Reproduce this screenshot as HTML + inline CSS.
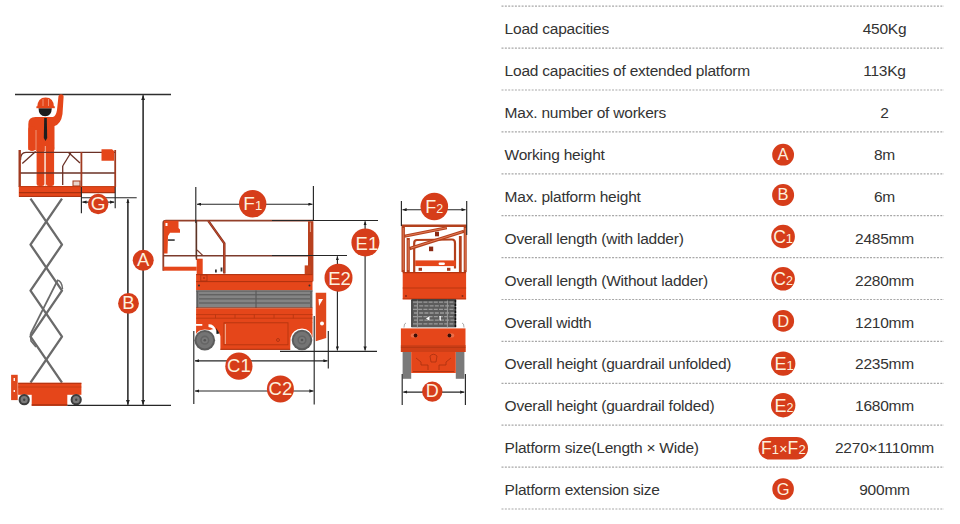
<!DOCTYPE html>
<html><head><meta charset="utf-8"><style>
html,body{margin:0;padding:0;background:#fff;}
body{width:960px;height:524px;position:relative;overflow:hidden;font-family:"Liberation Sans",sans-serif;}
.lbl,.val{position:absolute;height:42px;line-height:45px;font-size:15.5px;letter-spacing:-0.22px;color:#333;white-space:nowrap;}
.lbl{left:504.6px;}
.val{left:784.5px;width:200px;text-align:center;}
svg{position:absolute;left:0;top:0;}
</style></head><body>
<svg width="960" height="524" viewBox="0 0 960 524" font-family="Liberation Sans, sans-serif">
<g stroke="#a8a8a8" stroke-width="1.2" stroke-dasharray="2 1.35"><line x1="501.5" y1="6.20" x2="944" y2="6.20"/><line x1="501.5" y1="48.10" x2="944" y2="48.10"/><line x1="501.5" y1="90.00" x2="944" y2="90.00"/><line x1="501.5" y1="131.90" x2="944" y2="131.90"/><line x1="501.5" y1="173.80" x2="944" y2="173.80"/><line x1="501.5" y1="215.70" x2="944" y2="215.70"/><line x1="501.5" y1="257.60" x2="944" y2="257.60"/><line x1="501.5" y1="299.50" x2="944" y2="299.50"/><line x1="501.5" y1="341.40" x2="944" y2="341.40"/><line x1="501.5" y1="383.30" x2="944" y2="383.30"/><line x1="501.5" y1="425.20" x2="944" y2="425.20"/><line x1="501.5" y1="467.10" x2="944" y2="467.10"/><line x1="501.5" y1="509.00" x2="944" y2="509.00"/></g>
<g fill="#d63d1a"><circle cx="783.1" cy="154.7" r="10.9"/><text fill="#fdf0de" x="783.1" y="160.39" font-size="16.5" text-anchor="middle">A</text><circle cx="783.1" cy="195.0" r="11.0"/><text fill="#fdf0de" x="783.1" y="199.89" font-size="16.5" text-anchor="middle">B</text><circle cx="783.1" cy="236.5" r="11.8"/><text fill="#fdf0de" x="783.1" y="242.74" font-size="17.5" text-anchor="middle" letter-spacing="0">C<tspan font-size="13">1</tspan></text><circle cx="783.1" cy="278.8" r="11.8"/><text fill="#fdf0de" x="783.1" y="285.04" font-size="17.5" text-anchor="middle" letter-spacing="0">C<tspan font-size="12.5">2</tspan></text><circle cx="783.3" cy="320.9" r="10.8"/><text fill="#fdf0de" x="783.3" y="326.59" font-size="16.5" text-anchor="middle">D</text><circle cx="783.2" cy="363.6" r="12.2"/><text fill="#fdf0de" x="784" y="370" font-size="18" text-anchor="middle">E<tspan font-size="13">1</tspan></text><circle cx="783.2" cy="405.2" r="12.2"/><text fill="#fdf0de" x="784" y="411.6" font-size="18" text-anchor="middle">E<tspan font-size="12.5">2</tspan></text><circle cx="783.1" cy="489.0" r="10.8"/><text fill="#fdf0de" x="783.1" y="494.69" font-size="16.5" text-anchor="middle">G</text><rect x="758.5" y="437" width="49.5" height="22.6" rx="11.3"/><text fill="#fdf0de" x="783.4" y="454.4" font-size="17.5" text-anchor="middle" letter-spacing="0.2">F<tspan font-size="13">1</tspan><tspan font-size="14">×</tspan>F<tspan font-size="13">2</tspan></text></g>

<defs>
<marker id="ar" viewBox="0 0 10 8" refX="10" refY="4" markerWidth="4.2" markerHeight="3.3" orient="auto-start-reverse" markerUnits="userSpaceOnUse"><path d="M0 0L10 4L0 8z" fill="#1e1e1e"/></marker>
<marker id="ar2" viewBox="0 0 10 8" refX="10" refY="4" markerWidth="5.6" markerHeight="3.8" orient="auto-start-reverse" markerUnits="userSpaceOnUse"><path d="M0 0L10 4L0 8z" fill="#222"/></marker>
</defs>
<!-- ============ LEFT FIGURE: extended lift ============ -->
<g id="left">
<line x1="15" y1="94.5" x2="171" y2="94.5" stroke="#2e2e2e" stroke-width="1.3"/>
<!-- scissors -->
<g stroke="#6a6a6a" stroke-width="2.3" fill="none" stroke-linejoin="round">
<polyline points="30.5,198.6 62,244.6 30.5,290.6 62,336.6 30.5,382.7"/>
<polyline points="62,198.6 30.5,244.6 62,290.6 30.5,336.6 62,382.7"/>
<line x1="57.5" y1="280.5" x2="30.5" y2="334" stroke-width="1.7"/>
<path d="M57 280 Q62 281 62.5 289" stroke-width="1.5"/>
<path d="M30.5 334 L31 341 L36 347" stroke-width="1.6"/>
</g>
<!-- worker -->
<g fill="#e5461a">
<path d="M37.2 107.3 Q37.5 97.6 45.6 97.6 Q53.8 97.6 54 107.3 Z"/>
<rect x="35.5" y="117" width="19" height="34" rx="2"/>
<path d="M28.3 150 L28.3 124 Q28.3 117 35.5 117 L42 117 L42 150 Z"/>
<rect x="28.3" y="126" width="7.5" height="25" rx="3.7"/>
<path d="M48 117 L53 117 Q56 116 57 110 L58.5 96 Q59 94.3 61 94.3 Q63.8 94.5 63.6 97 L62.5 114 Q61 124 54.5 126 L48 126 Z"/>
<rect x="36.6" y="145" width="7.8" height="41" rx="2.5"/>
<rect x="46" y="145" width="8.1" height="41" rx="2.5"/>
</g>
<line x1="45.3" y1="146" x2="45.3" y2="186" stroke="#f3b9a0" stroke-width="1"/>
<line x1="36" y1="130" x2="36" y2="150" stroke="#f3b9a0" stroke-width="0.7"/>
<path d="M38.5 108.3 Q38.6 116.2 45.2 116.2 Q51.6 116.2 51.8 108.3 Z" fill="#1c1c1c"/>
<rect x="36.4" y="106.3" width="18.4" height="1.9" fill="#e5461a"/>
<line x1="43" y1="99" x2="43" y2="106" stroke="#f7a58a" stroke-width="0.8"/>
<line x1="48.5" y1="99" x2="48.5" y2="106" stroke="#f7a58a" stroke-width="0.8"/>
<path d="M44.2 118 L46.8 118 L47.2 138 L45.5 141 L43.8 138 Z" fill="#1e1e1e"/>
<!-- guardrails -->
<g stroke="#6a3025" stroke-width="1.3" fill="none">
<path d="M20.5 160 Q20.5 152.3 26 152.3 L115.2 152.3"/>
<line x1="19.7" y1="173" x2="115.2" y2="173"/>
<line x1="22.3" y1="163.5" x2="35.6" y2="151.4"/>
<line x1="62.7" y1="185" x2="62.7" y2="166"/>
<line x1="62.7" y1="166" x2="71" y2="152.5"/>
<line x1="68.5" y1="152.5" x2="80" y2="163"/>
</g>
<g stroke="#a03a20" fill="none">
<line x1="19.7" y1="150" x2="19.7" y2="187" stroke-width="2.4"/>
<line x1="81.4" y1="152" x2="81.4" y2="187" stroke-width="1.8"/>
<line x1="115.2" y1="150" x2="115.2" y2="187" stroke-width="1.8"/>
</g>
<path d="M101.5 149.3 L112 149.3 L114 151 L114 160.7 L101.5 160.7 Z" fill="#e5461a"/>
<rect x="73" y="181" width="7" height="5" fill="#e9d6cc" stroke="#a33a1c" stroke-width="1"/>
<!-- deck -->
<rect x="19" y="186.2" width="96.2" height="6.5" fill="#e5461a"/>
<rect x="18.8" y="186.2" width="62.9" height="10.6" fill="#e5461a"/>
<line x1="19" y1="186.6" x2="115" y2="186.6" stroke="#b5350f" stroke-width="0.8"/><line x1="19" y1="192.6" x2="115" y2="192.6" stroke="#a8300f" stroke-width="1.1"/>
<line x1="19" y1="196.4" x2="81.4" y2="196.4" stroke="#a8300f" stroke-width="1"/>
<!-- base -->
<rect x="18.1" y="382.8" width="63.3" height="12" fill="#e5461a"/>
<line x1="18.1" y1="383.3" x2="81.4" y2="383.3" stroke="#a8300f" stroke-width="0.9"/>
<line x1="18.1" y1="387" x2="81.4" y2="387" stroke="#b5350f" stroke-width="0.6"/>
<rect x="31.7" y="389.8" width="35.6" height="16" fill="#e5461a"/>
<line x1="31.7" y1="405" x2="67.3" y2="405" stroke="#a8300f" stroke-width="1.4"/>
<rect x="11.1" y="374.8" width="6.6" height="25.3" fill="#e0481c"/>
<rect x="13.6" y="378" width="1.3" height="3" fill="#fff"/>
<rect x="13.6" y="390" width="1.3" height="2" fill="#fff"/>
<circle cx="24.2" cy="399.7" r="5.6" fill="#3d3d3d"/><circle cx="24.2" cy="399.7" r="3.6" fill="#7a7a7a"/><circle cx="24.2" cy="399.7" r="1.2" fill="#444"/>
<circle cx="76.2" cy="399.7" r="5.6" fill="#3d3d3d"/><circle cx="76.2" cy="399.7" r="3.6" fill="#7a7a7a"/><circle cx="76.2" cy="399.7" r="1.2" fill="#444"/>
<!-- dimension lines -->
<g stroke="#262626" stroke-width="1.15" fill="none">
<line x1="67.3" y1="405.4" x2="171" y2="405.4" stroke-width="1.3"/>
<line x1="81.4" y1="187" x2="81.4" y2="213.3"/>
<line x1="115.2" y1="187" x2="115.2" y2="208.3"/>
<line x1="82.4" y1="202.1" x2="114.2" y2="202.1" marker-start="url(#ar)" marker-end="url(#ar)"/>
<line x1="81.7" y1="197.7" x2="136.7" y2="197.7"/>
<line x1="127.9" y1="199.2" x2="127.9" y2="404.8" marker-start="url(#ar)" marker-end="url(#ar2)" stroke-width="1.4" stroke="#111"/>
<line x1="143.1" y1="95.2" x2="143.1" y2="404.8" marker-start="url(#ar2)" marker-end="url(#ar2)" stroke-width="1.4" stroke="#111"/>
</g>
</g>

<!-- ============ MIDDLE FIGURE: side view ============ -->
<g id="mid">
<g stroke="#7c3b2c" stroke-width="1.4" fill="none">
<path d="M163.3 270.7 L163.3 223 Q163.3 220.7 166 220.7 L313 220.7" stroke="#93402a" stroke-width="1.8"/>
<line x1="163.3" y1="255.8" x2="313" y2="255.8"/>
<polyline points="208.3,220.9 224.3,243.4 224.3,273.4" stroke="#8a3422" stroke-width="2.5"/>
<polyline points="208.3,220.9 224.3,243.4 224.3,273.4" stroke="#c44a2a" stroke-width="1"/>
<line x1="196.5" y1="220" x2="196.5" y2="260"/>
<line x1="197" y1="250" x2="202.7" y2="255.4" stroke-width="1.2"/>
</g>
<path d="M164 220.7 L178.5 220.7 L178.5 228 L180 229.5 L180 232.7 L170 232.7 L168 236 L167.5 253.4 L164 253.4 Z" fill="#e5461a"/>
<rect x="165.5" y="223" width="2" height="3" fill="#fff"/>
<rect x="168" y="239.3" width="6.7" height="1.5" fill="#2a2a2a"/>
<rect x="163.3" y="266.7" width="33.4" height="4" fill="#e5461a"/>
<rect x="196.7" y="258.7" width="6" height="16" fill="#e5461a"/>
<rect x="215" y="269.5" width="1.8" height="3" fill="#333"/>
<rect x="220.6" y="267.5" width="1.8" height="4" fill="#333"/>
<rect x="308" y="221.3" width="5.4" height="60" fill="#b8401e"/>
<line x1="310.4" y1="222.5" x2="310.4" y2="232" stroke="#f3c0a8" stroke-width="0.8"/>
<rect x="304.7" y="265.4" width="6" height="8.7" fill="#c8441c"/>
<!-- deck -->
<rect x="196.1" y="274.1" width="116.4" height="16.3" fill="#e5461a"/>
<line x1="196.1" y1="274.6" x2="312.5" y2="274.6" stroke="#a8300f" stroke-width="0.9"/>
<line x1="196.1" y1="281.6" x2="312.5" y2="281.6" stroke="#a8300f" stroke-width="0.9"/>
<rect x="200.8" y="274.9" width="6.2" height="6.1" fill="none" stroke="#a8300f" stroke-width="0.8"/>
<circle cx="204" cy="278" r="0.9" fill="#a8300f"/>
<circle cx="199" cy="285.5" r="1" fill="#333"/>
<circle cx="309.5" cy="285.5" r="1" fill="#333"/>
<!-- stowed scissors -->
<rect x="196.1" y="290.4" width="116.4" height="17.6" fill="#848484"/>
<g stroke="#555" stroke-width="1">
<line x1="196.1" y1="291" x2="312.5" y2="291"/>
<line x1="199" y1="294.8" x2="310" y2="294.8"/>
<line x1="199" y1="298.9" x2="310" y2="298.9"/>
<line x1="199" y1="303" x2="310" y2="303"/>
</g>
<g stroke="#5e5e5e" stroke-width="1.4"><line x1="197.5" y1="291" x2="197.5" y2="308"/><line x1="311" y1="291" x2="311" y2="308"/></g>
<line x1="256" y1="290.4" x2="256" y2="308" stroke="#5a5a5a" stroke-width="1.2"/>
<line x1="196.1" y1="308" x2="312.5" y2="308" stroke="#a8300f" stroke-width="1"/>
<!-- chassis -->
<rect x="196.1" y="308.4" width="116.4" height="14" fill="#e5461a"/>
<line x1="196.1" y1="314.6" x2="312.5" y2="314.6" stroke="#b5350f" stroke-width="0.8"/>
<line x1="196.1" y1="318.2" x2="312.5" y2="318.2" stroke="#b5350f" stroke-width="0.8"/>
<g stroke="#b5350f" stroke-width="0.8"><line x1="215.5" y1="314.6" x2="215.5" y2="318.2"/><line x1="235" y1="314.6" x2="235" y2="318.2"/><line x1="254.3" y1="314.6" x2="254.3" y2="318.2"/><line x1="274" y1="314.6" x2="274" y2="318.2"/><line x1="293.3" y1="314.6" x2="293.3" y2="318.2"/></g>
<path d="M214 322 L312.5 322 L312.5 338 Q311 329 302 328.5 Q292.5 329 290.5 338 L290.2 349.8 L220.4 349.8 L220.4 336 Q218.5 329 211 328.5 Z" fill="#e5461a"/>
<path d="M196.1 322 L214 322 L214 329 Q211 329.5 210 330 L204.8 329.6 Q198 330 196.1 334 Z" fill="#e5461a"/>
<rect x="195.8" y="324" width="6.5" height="1.8" fill="#fff"/>
<path d="M208.5 324.3 Q214 324 216 330 L218.5 334 L216 334 Q214 327.5 208.5 327 Z" fill="#fff"/>
<path d="M216.2 328 L219.5 333.5 L216.5 334 Z" fill="#1a1a1a"/>
<rect x="224" y="322.8" width="64" height="22" fill="none" stroke="#b5350f" stroke-width="0.9"/>
<line x1="225.3" y1="324" x2="225.3" y2="344" stroke="#f7d3c0" stroke-width="0.8"/>
<line x1="220.4" y1="349.3" x2="290.2" y2="349.3" stroke="#a8300f" stroke-width="1"/>
<circle cx="278" cy="340" r="1.5" fill="none" stroke="#a8300f" stroke-width="0.8"/>
<!-- wheels -->
<circle cx="204.8" cy="340.2" r="10.3" fill="#5c5c5c"/><circle cx="204.8" cy="340.2" r="8.3" fill="#747474"/><circle cx="204.8" cy="340.2" r="4.6" fill="#656565"/><circle cx="204.8" cy="340.2" r="3" fill="#7a7a7a"/><circle cx="204.8" cy="340.2" r="1.3" fill="#555"/>
<circle cx="302" cy="340" r="10.3" fill="#5c5c5c"/><circle cx="302" cy="340" r="8.3" fill="#747474"/><circle cx="302" cy="340" r="4.6" fill="#656565"/><circle cx="302" cy="340" r="3" fill="#7a7a7a"/><circle cx="302" cy="340" r="1.3" fill="#555"/>
<!-- ladder -->
<path d="M315.7 292.7 L326.2 292.7 L326.2 338 L315.7 341.3 Z" fill="#e0481c"/>
<path d="M318.5 299 L323 299 L319 306 Z" fill="#fff"/>
<circle cx="322" cy="323.5" r="2" fill="#fff"/>
<!-- dimension lines -->
<g stroke="#262626" stroke-width="1.15" fill="none">
<line x1="195.8" y1="187" x2="195.8" y2="223"/><line x1="196.3" y1="222" x2="196.3" y2="258.5" stroke="#5a3426" stroke-width="1.3"/>
<line x1="313.4" y1="186" x2="313.4" y2="221"/>
<line x1="197" y1="204.2" x2="312.5" y2="204.2" marker-start="url(#ar)" marker-end="url(#ar)"/>
<line x1="272" y1="220.5" x2="378" y2="220.5" stroke-width="1.2"/>
<line x1="272" y1="255.5" x2="347" y2="255.5" stroke-width="1.2"/>
<line x1="365.1" y1="221.2" x2="365.1" y2="350.6" marker-start="url(#ar)" marker-end="url(#ar)"/>
<line x1="337.4" y1="256.3" x2="337.4" y2="350.6" marker-start="url(#ar)" marker-end="url(#ar)"/>
<line x1="280" y1="351.3" x2="377" y2="351.3" stroke-width="1.2"/>
<line x1="193.8" y1="331" x2="193.8" y2="404"/>
<line x1="328.3" y1="331" x2="328.3" y2="368.5"/>
<line x1="314.2" y1="316" x2="314.2" y2="404.6"/>
<line x1="195" y1="360.8" x2="327.5" y2="360.8" marker-start="url(#ar)" marker-end="url(#ar)"/>
<line x1="195" y1="391" x2="313.5" y2="391" marker-start="url(#ar)" marker-end="url(#ar)"/>
</g>
</g>

<!-- ============ RIGHT FIGURE: front view ============ -->
<g id="front">
<g stroke="#b3401c" fill="none">
<line x1="402" y1="225.8" x2="466.5" y2="225.8" stroke-width="2.6"/>
<line x1="403.2" y1="225" x2="403.2" y2="272" stroke-width="3.4"/>
<line x1="408.2" y1="238" x2="408.2" y2="272" stroke-width="3.2"/>
<line x1="465.2" y1="225" x2="465.2" y2="272" stroke-width="3"/>
<line x1="460.3" y1="236" x2="460.3" y2="272" stroke-width="2.8"/>
<path d="M414.2 272 L414.2 243 Q414.2 240 417 240 L452 239.5 Q455 239.5 455 243 L455 268.4" stroke-width="2.2"/>
<line x1="404.3" y1="236.3" x2="446.8" y2="227.8" stroke-width="3.2"/>
<line x1="409.5" y1="248.6" x2="464" y2="231.3" stroke-width="3.2"/>
</g>
<g stroke="#ef8a66" stroke-width="0.8">
<line x1="405.5" y1="236" x2="446" y2="227.9"/>
<line x1="411" y1="248" x2="462.5" y2="231.7"/>
<line x1="403.2" y1="228" x2="403.2" y2="270"/>
<line x1="408.2" y1="240" x2="408.2" y2="270"/>
<line x1="465.2" y1="228" x2="465.2" y2="270"/>
</g>
<rect x="429" y="246.6" width="4.2" height="4.6" fill="#8a2a14"/>
<rect x="435" y="231.7" width="4" height="4.6" fill="#8a2a14"/>
<rect x="415.2" y="260.4" width="40.6" height="5.7" fill="#e5461a"/>
<rect x="438.6" y="262.4" width="6.3" height="2.5" fill="#fff" rx="1.2"/>
<rect x="418.6" y="267.8" width="3.4" height="3" fill="#a33a1c"/>
<rect x="447" y="267.8" width="3.4" height="3" fill="#a33a1c"/>
<!-- deck -->
<rect x="402.7" y="272" width="63.4" height="27.4" fill="#e5461a"/>
<line x1="402.7" y1="272.7" x2="466.1" y2="272.7" stroke="#a8300f" stroke-width="1"/>
<line x1="402.7" y1="288" x2="466.1" y2="288" stroke="#b5350f" stroke-width="0.9"/>
<line x1="402.7" y1="298.8" x2="466.1" y2="298.8" stroke="#b5350f" stroke-width="0.8"/>
<circle cx="406" cy="296" r="1" fill="#8a2a14"/><circle cx="462.5" cy="296" r="1" fill="#8a2a14"/>
<!-- scissor stack -->
<rect x="411.4" y="299.4" width="44.7" height="28" fill="#5c5c5c"/>
<g stroke="#9a9a9a" stroke-width="1.3" stroke-dasharray="4 1.2">
<line x1="413" y1="302.2" x2="455" y2="302.2"/>
<line x1="414" y1="305.8" x2="455" y2="305.8"/>
<line x1="413" y1="309.4" x2="455" y2="309.4"/>
<line x1="414" y1="313" x2="455" y2="313"/>
<line x1="413" y1="316.6" x2="455" y2="316.6"/>
<line x1="414" y1="320.2" x2="455" y2="320.2"/>
<line x1="413" y1="323.8" x2="455" y2="323.8"/>
</g>
<g stroke="#9a9a9a" stroke-width="1"><line x1="417.4" y1="299.4" x2="417.4" y2="327.4"/><line x1="447.4" y1="299.4" x2="447.4" y2="327.4"/></g>
<g stroke="#333" stroke-width="1"><line x1="411.8" y1="300" x2="411.8" y2="327"/></g><line x1="455.4" y1="300" x2="455.4" y2="327" stroke="#111" stroke-width="1.6" stroke-dasharray="2.5 1"/>
<line x1="411.4" y1="299.9" x2="456.1" y2="299.9" stroke="#222" stroke-width="1"/>
<path d="M426 318.5 L429.5 316.3 L429.5 320.7 Z" fill="#fff"/>
<rect x="439.5" y="316" width="1.3" height="4.5" fill="#fff"/>
<g stroke="#888" stroke-width="0.7" fill="none">
<path d="M404 327.5 Q404 323 406 323"/>
<path d="M464 327.5 Q464 323 462 323"/>
</g>
<!-- chassis -->
<rect x="400.9" y="328.4" width="64.6" height="23.6" fill="#e5461a"/>
<ellipse cx="414.3" cy="335.4" rx="3.6" ry="2.2" fill="#ee8a6a" opacity="0.6"/>
<ellipse cx="450.7" cy="335.4" rx="3.6" ry="2.2" fill="#ee8a6a" opacity="0.6"/>
<ellipse cx="415.6" cy="335.4" rx="1.9" ry="2" fill="#3a0e06"/>
<ellipse cx="449.4" cy="335.4" rx="1.9" ry="2" fill="#3a0e06"/>
<rect x="400.9" y="345" width="64.6" height="7" fill="#cf3f17"/>
<line x1="400.9" y1="347.3" x2="465.5" y2="347.3" stroke="#a8300f" stroke-width="0.7"/>
<rect x="402.6" y="352" width="8.6" height="26.8" fill="#7a7a7a"/>
<rect x="455.8" y="352" width="8.6" height="26.8" fill="#7a7a7a"/>
<rect x="411.2" y="352" width="44.6" height="21" fill="#e5461a"/>
<g stroke="#a8300f" stroke-width="0.8" fill="none">
<path d="M416 358 L421 362 L421 365 L428 365 L428 370"/>
<path d="M451 358 L446 362 L446 365 L439 365 L439 370"/>
<path d="M430 356 Q433.5 352.5 437 356 L436 362 L431 362 Z"/>
<line x1="413" y1="371.5" x2="454" y2="371.5"/>
</g>
<!-- dimension lines -->
<g stroke="#262626" stroke-width="1.15" fill="none">
<line x1="401.4" y1="201" x2="401.4" y2="226"/>
<line x1="466.7" y1="201" x2="466.7" y2="235"/>
<line x1="402.5" y1="209.7" x2="465.6" y2="209.7" marker-start="url(#ar)" marker-end="url(#ar)"/>
<line x1="402.2" y1="374" x2="402.2" y2="405"/>
<line x1="465.4" y1="374" x2="465.4" y2="405"/>
<line x1="403.3" y1="392.1" x2="464.3" y2="392.1" marker-start="url(#ar)" marker-end="url(#ar)"/>
</g>
</g>
<g fill="#d63d1a"><circle cx="98.2" cy="204.0" r="10.2"/><text fill="#fdf0de" x="98.2" y="210.25" font-size="19" text-anchor="middle">G</text><circle cx="143.2" cy="260.3" r="10.5"/><text fill="#fdf0de" x="143.2" y="265.98" font-size="18.5" text-anchor="middle">A</text><circle cx="128.5" cy="303.4" r="10.4"/><text fill="#fdf0de" x="128.5" y="309.08" font-size="18.5" text-anchor="middle">B</text><circle cx="252.7" cy="203.7" r="13.7"/><text fill="#fdf0de" x="252.7" y="210.25" font-size="19" text-anchor="middle" letter-spacing="0">F<tspan font-size="13">1</tspan></text><circle cx="365.4" cy="242.5" r="14"/><text fill="#fdf0de" x="366.9" y="249.7" font-size="18.5" text-anchor="middle">E1</text><circle cx="338.5" cy="277.7" r="14"/><text fill="#fdf0de" x="339.5" y="284.5" font-size="18.5" text-anchor="middle">E2</text><circle cx="238.9" cy="366.2" r="13.6"/><text fill="#fdf0de" x="238.9" y="372.08" font-size="18.5" text-anchor="middle" letter-spacing="0">C<tspan font-size="18.5">1</tspan></text><circle cx="280.4" cy="389.0" r="13.5"/><text fill="#fdf0de" x="280.4" y="394.88" font-size="18.5" text-anchor="middle" letter-spacing="0">C<tspan font-size="18.5">2</tspan></text><circle cx="434.3" cy="206.5" r="13.8"/><text fill="#fdf0de" x="434.3" y="212.71" font-size="18" text-anchor="middle" letter-spacing="0">F<tspan font-size="12.5">2</tspan></text><circle cx="432.3" cy="391.6" r="10.2"/><text fill="#fdf0de" x="432.3" y="397.31" font-size="18" text-anchor="middle">D</text></g>
</svg>
<div class="lbl" style="top:6.20px">Load capacities</div>
<div class="val" style="top:6.20px">450Kg</div>
<div class="lbl" style="top:48.10px">Load capacities of extended platform</div>
<div class="val" style="top:48.10px">113Kg</div>
<div class="lbl" style="top:90.00px">Max. number of workers</div>
<div class="val" style="top:90.00px">2</div>
<div class="lbl" style="top:131.90px">Working height</div>
<div class="val" style="top:131.90px">8m</div>
<div class="lbl" style="top:173.80px">Max. platform height</div>
<div class="val" style="top:173.80px">6m</div>
<div class="lbl" style="top:215.70px">Overall length (with ladder)</div>
<div class="val" style="top:215.70px">2485mm</div>
<div class="lbl" style="top:257.60px">Overall length (Without ladder)</div>
<div class="val" style="top:257.60px">2280mm</div>
<div class="lbl" style="top:299.50px">Overall width</div>
<div class="val" style="top:299.50px">1210mm</div>
<div class="lbl" style="top:341.40px">Overall height (guardrail unfolded)</div>
<div class="val" style="top:341.40px">2235mm</div>
<div class="lbl" style="top:383.30px">Overall height (guardrail folded)</div>
<div class="val" style="top:383.30px">1680mm</div>
<div class="lbl" style="top:425.20px">Platform size(Length × Wide)</div>
<div class="val" style="top:425.20px">2270×1110mm</div>
<div class="lbl" style="top:467.10px">Platform extension size</div>
<div class="val" style="top:467.10px">900mm</div>
</body></html>
